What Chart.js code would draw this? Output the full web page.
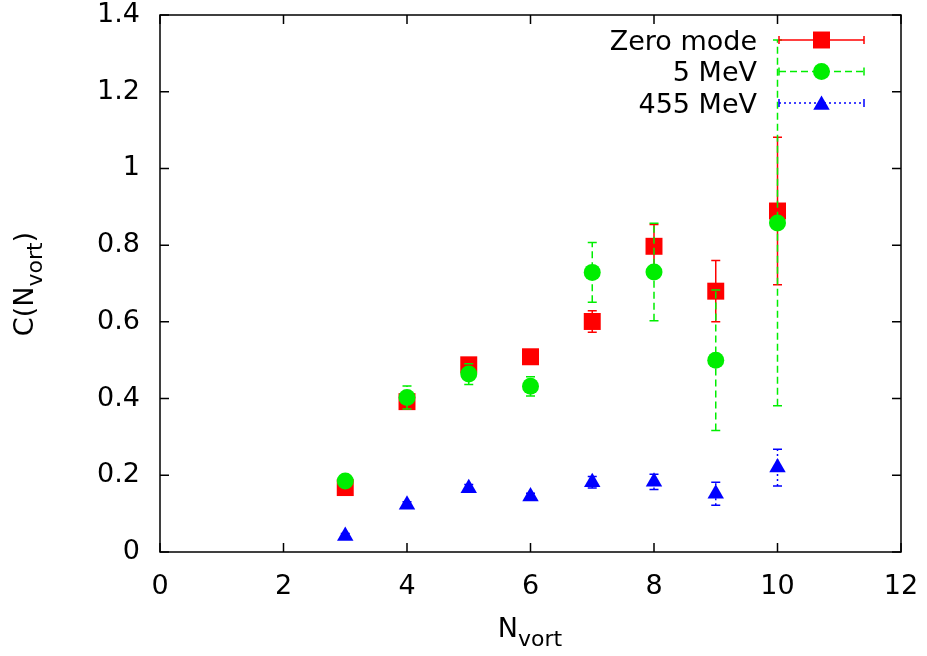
<!DOCTYPE html>
<html>
<head>
<meta charset="utf-8">
<script src="https://cdn.jsdelivr.net/npm/chart.js@4.4.1/dist/chart.umd.min.js"></script>
<style>
    html, body { margin: 0; padding: 0; background: #fff; }
    #chart { display: block; }
</style>
</head>
<body>
<canvas id="chart" width="927" height="656"></canvas>
<script>
// C(N_vort) vs N_vort - three data sets with error bars

const nVort = [3, 4, 5, 6, 7, 8, 9, 10];

const seriesNames = ['Zero mode', '5 MeV', '455 MeV'];

const zeroMode    = [0.168, 0.392, 0.488, 0.509, 0.601, 0.797, 0.680, 0.889];
const zeroModeErr = [0.012, 0.012, 0.012, 0.010, 0.028, 0.057, 0.080, 0.192];

const mev5    = [0.185, 0.403, 0.464, 0.432, 0.729, 0.730, 0.500, 0.858];
const mev5Err = [0.010, 0.030, 0.027, 0.025, 0.078, 0.127, 0.183, 0.477];

const mev455    = [0.042, 0.123, 0.166, 0.145, 0.182, 0.183, 0.152, 0.220];
const mev455Err = [0.006, 0.008, 0.010, 0.008, 0.015, 0.020, 0.030, 0.048];

const xTicks = [0, 2, 4, 6, 8, 10, 12];
const yTicks = [0, 0.2, 0.4, 0.6, 0.8, 1.0, 1.2, 1.4];

const FONT = '"DejaVu Sans", "Liberation Sans", Arial, sans-serif';

// per dataset look: colour, dash of the error bars, marker
const styles = [
    { color: '#ff0000', dash: [], marker: 'rect', radius: 12 },
    { color: '#00ee00', dash: [7, 4], marker: 'circle', radius: 8.5 },
    { color: '#0000ff', dash: [2, 3], marker: 'triangle', radius: 9.5 }
];
const errors = [zeroModeErr, mev5Err, mev455Err];

function toPoints(ys) {
    return nVort.map((x, i) => ({ x: x, y: ys[i] }));
}

// Error bars drawn just before each data set's own markers
const errorBarPlugin = {
    id: 'errorBars',
    beforeDatasetDraw(chart, args) {
        const ctx = chart.ctx;
        const yScale = chart.scales.y;
        const st = styles[args.index];
        const err = errors[args.index];
        const data = chart.data.datasets[args.index].data;
        ctx.save();
        ctx.strokeStyle = st.color;
        ctx.lineWidth = 1.5;
        args.meta.data.forEach((pt, i) => {
            const yTop = yScale.getPixelForValue(data[i].y + err[i]);
            const yBot = yScale.getPixelForValue(data[i].y - err[i]);
            ctx.setLineDash(st.dash);
            ctx.beginPath();
            ctx.moveTo(pt.x, yBot);
            ctx.lineTo(pt.x, yTop);
            ctx.stroke();
            ctx.setLineDash([]);
            ctx.beginPath();
            ctx.moveTo(pt.x - 4.5, yTop);
            ctx.lineTo(pt.x + 4.5, yTop);
            ctx.moveTo(pt.x - 4.5, yBot);
            ctx.lineTo(pt.x + 4.5, yBot);
            ctx.stroke();
        });
        ctx.restore();
    }
};

// Frame, inward ticks on all sides, axis titles and key
const framePlugin = {
    id: 'frame',
    afterDraw(chart) {
        const ctx = chart.ctx;
        const a = chart.chartArea;
        const xs = chart.scales.x;
        const ys = chart.scales.y;
        ctx.save();
        ctx.strokeStyle = '#000';
        ctx.lineWidth = 1.5;
        ctx.strokeRect(a.left, a.top, a.right - a.left, a.bottom - a.top);
        ctx.beginPath();
        xTicks.forEach(v => {
            const px = xs.getPixelForValue(v);
            ctx.moveTo(px, a.bottom); ctx.lineTo(px, a.bottom - 9);
            ctx.moveTo(px, a.top); ctx.lineTo(px, a.top + 9);
        });
        yTicks.forEach(v => {
            const py = ys.getPixelForValue(v);
            ctx.moveTo(a.left, py); ctx.lineTo(a.left + 9, py);
            ctx.moveTo(a.right, py); ctx.lineTo(a.right - 9, py);
        });
        ctx.stroke();

        // axis titles with subscripts
        ctx.fillStyle = '#000';
        ctx.textBaseline = 'alphabetic';
        const big = '27px ' + FONT;
        const small = '22px ' + FONT;
        function subText(parts, cx, cy) {
            let w = 0;
            parts.forEach(p => { ctx.font = p.sub ? small : big; w += ctx.measureText(p.t).width; });
            let x = cx - w / 2;
            parts.forEach(p => {
                ctx.font = p.sub ? small : big;
                ctx.textAlign = 'left';
                ctx.fillText(p.t, x, cy + (p.sub ? 9 : 0));
                x += ctx.measureText(p.t).width;
            });
        }
        subText([{ t: 'N' }, { t: 'vort', sub: true }], 530, 637);
        ctx.save();
        ctx.translate(33, 284);
        ctx.rotate(-Math.PI / 2);
        subText([{ t: 'C(N' }, { t: 'vort', sub: true }, { t: ')' }], 0, 0);
        ctx.restore();

        // key
        ctx.font = '27px ' + FONT;
        ctx.textAlign = 'right';
        ctx.textBaseline = 'alphabetic';
        const rowsY = [40, 71.5, 103];
        seriesNames.forEach((name, i) => {
            const y = rowsY[i];
            const st = styles[i];
            ctx.fillStyle = '#000';
            ctx.fillText(name, 757, y + 9.5);
            ctx.strokeStyle = st.color;
            ctx.lineWidth = 1.5;
            ctx.setLineDash(st.dash);
            ctx.beginPath();
            ctx.moveTo(779, y); ctx.lineTo(864, y);
            ctx.stroke();
            ctx.setLineDash([]);
            ctx.beginPath();
            ctx.moveTo(779, y - 4); ctx.lineTo(779, y + 4);
            ctx.moveTo(864, y - 4); ctx.lineTo(864, y + 4);
            ctx.stroke();
            ctx.fillStyle = st.color;
            Chart.helpers.drawPoint(ctx, { pointStyle: st.marker, radius: st.radius, rotation: 0, borderWidth: 0 }, 821.5, y + (st.marker === 'triangle' ? 2 : 0));
        });
        ctx.restore();
    }
};

const datasets = [zeroMode, mev5, mev455].map((ys, i) => ({
    label: seriesNames[i],
    data: toPoints(ys),
    pointStyle: styles[i].marker,
    pointRadius: styles[i].radius,
    pointHoverRadius: styles[i].radius,
    backgroundColor: styles[i].color,
    borderColor: styles[i].color,
    borderWidth: 0,
    showLine: false,
    order: 3 - i
}));

new Chart(document.getElementById('chart'), {
    type: 'scatter',
    data: { datasets: datasets },
    options: {
        responsive: false,
        animation: false,
        devicePixelRatio: 1,
        layout: { padding: { top: 15, right: 26, left: 0, bottom: 0 } },
        plugins: {
            legend: { display: false },
            tooltip: { enabled: false }
        },
        scales: {
            x: {
                type: 'linear',
                min: 0,
                max: 12,
                grid: { display: false, drawTicks: false },
                border: { display: false },
                afterBuildTicks: scale => { scale.ticks = xTicks.map(v => ({ value: v })); },
                afterFit: scale => {
                    scale.height = 104;
                    scale.paddingLeft = 0;
                    scale.paddingRight = 0;
                },
                ticks: {
                    color: '#000',
                    font: { family: FONT, size: 27 },
                    padding: 19,
                    maxRotation: 0
                }
            },
            y: {
                type: 'linear',
                min: 0,
                max: 1.4,
                grid: { display: false, drawTicks: false },
                border: { display: false },
                afterBuildTicks: scale => { scale.ticks = yTicks.map(v => ({ value: v })); },
                afterFit: scale => {
                    scale.width = 160;
                    scale.paddingTop = 0;
                    scale.paddingBottom = 0;
                },
                ticks: {
                    color: '#000',
                    font: { family: FONT, size: 27 },
                    padding: 20,
                    callback: v => String(+v.toFixed(1))
                }
            }
        }
    },
    plugins: [errorBarPlugin, framePlugin]
});
</script>
</body>
</html>
